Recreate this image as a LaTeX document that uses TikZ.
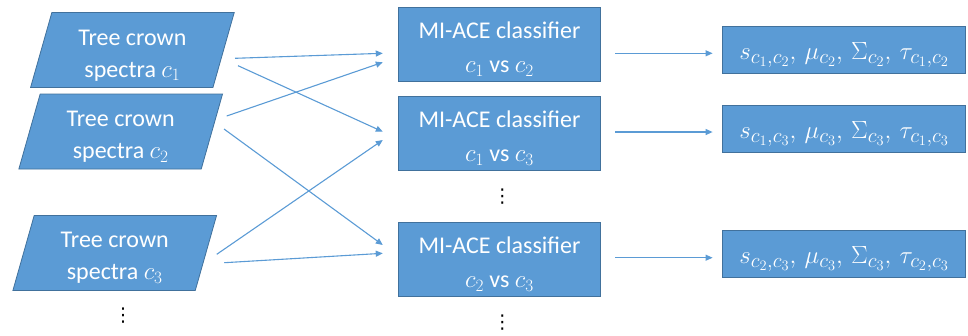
\documentclass[tikz,border=0pt]{standalone}
\usepackage{fontspec}
\setmainfont{Carlito}
\newfontfamily\dvfont{DejaVu Sans}
\DeclareMathSizes{24}{26}{17}{13}
\DeclareMathSizes{23}{29.5}{20.5}{15}
\usetikzlibrary{shapes.geometric,arrows.meta}
\definecolor{boxblue}{HTML}{5B9BD5}
\definecolor{edgeblue}{HTML}{41719C}
\newcommand\topstrut[1]{\rule{0pt}{#1}}
\begin{document}
\begin{tikzpicture}[x=1pt,y=-1pt,
  para/.style={trapezium, trapezium left angle=77, trapezium right angle=103,
    trapezium stretches=true, minimum width=204pt, minimum height=75pt,
    fill=boxblue, draw=edgeblue, line width=0.8pt, text=white, align=center,
    font=\fontsize{24}{32}\selectfont, inner sep=0pt},
  clsbox/.style={rectangle, minimum width=202pt, minimum height=74pt,
    fill=boxblue, draw=edgeblue, line width=0.8pt, text=white, align=center,
    font=\fontsize{24}{34}\selectfont, inner sep=0pt},
  resbox/.style={rectangle, minimum width=243pt, minimum height=46.6pt,
    fill=boxblue, draw=edgeblue, line width=0.8pt, text=white,
    font=\fontsize{23}{26}\selectfont, inner sep=0pt},
  conn/.style={draw=boxblue, line width=1.1pt, -{Triangle[length=7pt,width=6pt]}},
  dotsnode/.style={font=\dvfont\fontsize{19}{19}\selectfont, inner sep=0pt}
]
\useasboundingbox (0,0) rectangle (968,335);

\node[para] (p1) at (132.4,50) {\topstrut{26pt}Tree crown\\spectra $c_1$};
\node[para] (p2) at (120.7,131.5) {\topstrut{26pt}Tree crown\\spectra $c_2$};
\node[para] (p3) at (114.75,252.9) {\topstrut{26pt}Tree crown\\spectra $c_3$};
\node[dotsnode] (d1) at (123,316) {⋮};

\node[clsbox] (m1) at (499.5,44.2) {\topstrut{26pt}MI-ACE classifier\\$c_1$ vs $c_2$};
\node[clsbox] (m2) at (499.5,133.7) {\topstrut{26pt}MI-ACE classifier\\$c_1$ vs $c_3$};
\node[clsbox] (m3) at (499.5,259.2) {\topstrut{26pt}MI-ACE classifier\\$c_2$ vs $c_3$};
\node[dotsnode] (d2) at (502.3,197) {⋮};
\node[dotsnode] (d3) at (502.3,323) {⋮};

\node[resbox] (r1) at (844.2,50) {\topstrut{26.5pt}$s_{c_1,c_2},\, \mu_{c_2},\, \Sigma_{c_2},\, \tau_{c_1,c_2}$};
\node[resbox] (r2) at (844.2,129) {\topstrut{26.5pt}$s_{c_1,c_3},\, \mu_{c_3},\, \Sigma_{c_3},\, \tau_{c_1,c_3}$};
\node[resbox] (r3) at (844.2,254) {\topstrut{26.5pt}$s_{c_2,c_3},\, \mu_{c_3},\, \Sigma_{c_3},\, \tau_{c_2,c_3}$};

% left to middle
\draw[conn] ([xshift=102.6pt,yshift=-8.3pt]p1.center) -- ([xshift=-15.3pt,yshift=-9.1pt]m1.west);
\draw[conn] ([xshift=105.6pt,yshift=-15.7pt]p1.center) -- ([xshift=-15.3pt,yshift=2pt]m2.west);
\draw[conn] ([xshift=106pt,yshift=15.5pt]p2.center) -- ([xshift=-15.3pt,yshift=-18.1pt]m1.west);
\draw[conn] ([xshift=103.3pt,yshift=2.5pt]p2.center) -- ([xshift=-15.3pt,yshift=14.2pt]m3.west);
\draw[conn] ([xshift=102pt,yshift=-1.4pt]p3.center) -- ([xshift=-15.3pt,yshift=-6.3pt]m2.west);
\draw[conn] ([xshift=109.5pt,yshift=-9.8pt]p3.center) -- ([xshift=-15.3pt,yshift=5.9pt]m3.west);

% middle to right
\draw[conn] ([xshift=14.3pt,yshift=-9.1pt]m1.east) -- ([xshift=-9.7pt,yshift=-3.3pt]r1.west);
\draw[conn] ([xshift=14.3pt,yshift=1.7pt]m2.east) -- ([xshift=-9.7pt,yshift=-3pt]r2.west);
\draw[conn] ([xshift=14.3pt,yshift=1.5pt]m3.east) -- ([xshift=-9.7pt,yshift=-3.7pt]r3.west);
\end{tikzpicture}
\end{document}
